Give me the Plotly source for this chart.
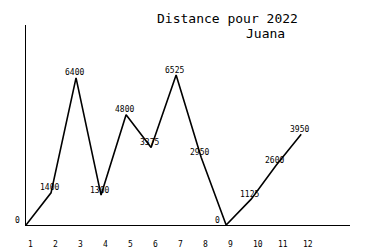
import plotly.graph_objects as go

months = [1, 2, 3, 4, 5, 6, 7, 8, 9, 10, 11, 12]
distances = [0, 1400, 6400, 1300, 4800, 3375, 6525, 2950, 0, 1125, 2600, 3950]
tick_labels = [str(m) for m in months]
title_line1 = "Distance pour 2022"
title_line2 = "Juana"

MONO = "DejaVu Sans Mono"

fig = go.Figure()
fig.add_trace(go.Scatter(
    x=months, y=distances, mode="lines",
    line=dict(color="black", width=1.6),
    hoverinfo="skip", showlegend=False,
))

annotations = []
for m, v in zip(months, distances):
    annotations.append(dict(
        x=m, y=v, xref="x", yref="y", text=str(v), showarrow=False,
        xanchor="center", yanchor="middle",
        xshift=(-9 if v == 0 else -2), yshift=5,
        font=dict(family=MONO, size=8, color="black"),
    ))
for m, t in zip(months, tick_labels):
    annotations.append(dict(
        x=m, y=0, xref="x", yref="paper", text=t, showarrow=False,
        xanchor="left", yanchor="middle", xshift=-0.5, yshift=-19,
        font=dict(family=MONO, size=8, color="black"),
    ))
annotations.append(dict(
    x=227, y=250 - 18, xref="paper", yref="paper", text=title_line1,
    showarrow=False, xanchor="center", yanchor="middle",
    font=dict(family=MONO, size=13, color="black"),
))
annotations.append(dict(
    x=265, y=250 - 33, xref="paper", yref="paper", text=title_line2,
    showarrow=False, xanchor="center", yanchor="middle",
    font=dict(family=MONO, size=13, color="black"),
))
# convert pixel positions of the titles into paper coordinates
for a in annotations[-2:]:
    a["x"] = (a["x"] - 26) / (350 - 26)
    a["y"] = (a["y"] - 25) / (225 - 25)

fig.update_layout(
    width=375, height=250,
    margin=dict(l=26, r=25, t=25, b=25),
    paper_bgcolor="white", plot_bgcolor="white",
    xaxis=dict(range=[1, 13.95], showgrid=False, zeroline=False,
               showticklabels=False, ticks="", showline=True,
               linecolor="black", linewidth=1),
    yaxis=dict(range=[0, 8700], showgrid=False, zeroline=False,
               showticklabels=False, ticks="", showline=True,
               linecolor="black", linewidth=1),
    annotations=annotations,
)
fig.write_html("out.html")
